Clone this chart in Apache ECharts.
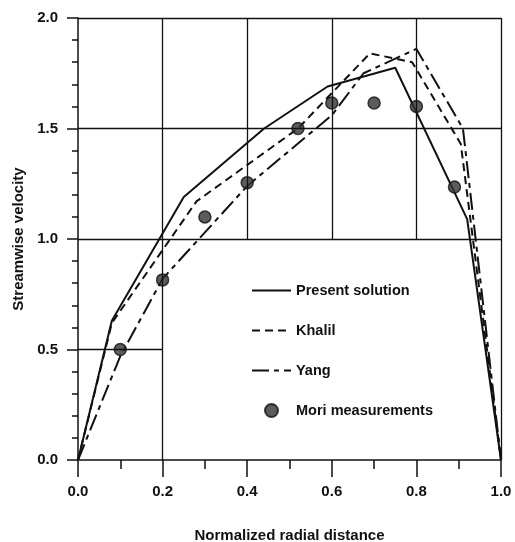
<!DOCTYPE html>
<html lang="en">
<head>
    <meta charset="UTF-8">
    <title>Streamwise velocity</title>
    <style>
        html, body { margin: 0; padding: 0; background: #fff; }
        #main { width: 515px; height: 542px; }
    </style>
</head>
<body>
<div id="main"></div>

<script src="https://cdn.jsdelivr.net/npm/echarts@6/dist/echarts.min.js"></script>
<script>
    // present solution
    var presentX = [0, 0.08, 0.25, 0.44, 0.59, 0.75, 0.92, 1.0];
    var presentY = [0, 0.63, 1.19, 1.50, 1.69, 1.775, 1.09, 0];
    // Khalil
    var khalilX = [0, 0.08, 0.28, 0.52, 0.69, 0.79, 0.905, 1.0];
    var khalilY = [0, 0.62, 1.17, 1.50, 1.84, 1.80, 1.43, 0];
    // Yang
    var yangX = [0, 0.1, 0.2, 0.4, 0.6, 0.675, 0.8, 0.91, 1.0];
    var yangY = [0, 0.47, 0.82, 1.24, 1.56, 1.75, 1.86, 1.50, 0];
    // Mori measurements
    var moriX = [0.1, 0.2, 0.3, 0.4, 0.52, 0.6, 0.7, 0.8, 0.89];
    var moriY = [0.5, 0.815, 1.10, 1.255, 1.50, 1.615, 1.615, 1.60, 1.235];

    var lineNames = ['Present solution', 'Khalil', 'Yang'];
    var pointName = 'Mori measurements';

    function pairs(xs, ys) {
        var out = [];
        for (var i = 0; i < xs.length; i++) out.push([xs[i], ys[i]]);
        return out;
    }

    // grid segments, legend area is left blank like in the paper figure
    var gridSegs = [
        [[0.2, 0], [0.2, 2]],
        [[0.4, 1], [0.4, 2]],
        [[0.6, 1], [0.6, 2]],
        [[0.8, 1], [0.8, 2]],
        [[1.0, 0], [1.0, 2]],
        [[0, 0.5], [0.2, 0.5]],
        [[0, 1.0], [1.0, 1.0]],
        [[0, 1.5], [1.0, 1.5]],
        [[0, 2.0], [1.0, 2.0]]
    ];
    var markData = gridSegs.map(function (s) {
        return [{coord: s[0]}, {coord: s[1]}];
    });

    // legend: lines without the dot, points as a dot
    var legendData = lineNames.map(function (n) {
        return {name: n, itemStyle: {opacity: 0}};
    });
    legendData.push({name: pointName, icon: 'circle'});

    var font = 'Liberation Sans, Arial, sans-serif';
    var ink = '#111';
    var myChart = echarts.init(document.getElementById('main'));
    var option = {
        backgroundColor: '#fff',
        animation: false,
        grid: {left: 78, right: 14, top: 18, bottom: 82, outerBoundsMode: 'none'},
        legend: {
            data: legendData,
            orient: 'vertical',
            left: 246,
            top: 278,
            itemWidth: 39,
            itemHeight: 13,
            itemGap: 25,
            textStyle: {fontFamily: font, fontSize: 14.5, fontWeight: 'bold', color: ink}
        },
        xAxis: {
            type: 'value', min: 0, max: 1, interval: 0.2,
            name: 'Normalized radial distance',
            nameLocation: 'middle', nameGap: 68,
            nameTextStyle: {fontFamily: font, fontSize: 15, fontWeight: 'bold', color: ink},
            axisLine: {lineStyle: {color: ink, width: 1.5}},
            axisTick: {length: 17, lineStyle: {color: ink, width: 1.5}},
            minorTick: {show: true, splitNumber: 2, length: 9, lineStyle: {color: ink, width: 1.5}},
            splitLine: {show: false},
            axisLabel: {
                margin: 24, fontFamily: font, fontSize: 15, fontWeight: 'bold', color: ink,
                formatter: function (v) { return v.toFixed(1); }
            }
        },
        yAxis: {
            type: 'value', min: 0, max: 2, interval: 0.5,
            name: 'Streamwise velocity',
            nameLocation: 'middle', nameGap: 47,
            nameTextStyle: {fontFamily: font, fontSize: 15, fontWeight: 'bold', color: ink},
            axisLine: {show: true, lineStyle: {color: ink, width: 1.5}},
            axisTick: {show: true, length: 11, lineStyle: {color: ink, width: 1.5}},
            minorTick: {show: true, splitNumber: 5, length: 6, lineStyle: {color: ink, width: 1.5}},
            splitLine: {show: false},
            axisLabel: {
                margin: 20, fontFamily: font, fontSize: 15, fontWeight: 'bold', color: ink,
                formatter: function (v) { return v.toFixed(1); }
            }
        },
        series: [
            {
                name: 'grid', type: 'line', data: [], silent: true, z: 1,
                markLine: {
                    silent: true, symbol: 'none', label: {show: false},
                    lineStyle: {color: ink, width: 1.3, type: 'solid'},
                    data: markData
                }
            },
            {
                name: lineNames[0], type: 'line', data: pairs(presentX, presentY),
                symbol: 'none', z: 3, color: ink,
                lineStyle: {color: ink, width: 2, type: 'solid'}
            },
            {
                name: lineNames[1], type: 'line', data: pairs(khalilX, khalilY),
                symbol: 'none', z: 3, color: ink,
                lineStyle: {color: ink, width: 2, type: [8, 5]}
            },
            {
                name: lineNames[2], type: 'line', data: pairs(yangX, yangY),
                symbol: 'none', z: 3, color: ink,
                lineStyle: {color: ink, width: 2, type: [17, 5, 5, 5]}
            },
            {
                name: pointName, type: 'scatter', data: pairs(moriX, moriY),
                symbol: 'circle', symbolSize: 12, z: 4,
                itemStyle: {color: '#333', borderColor: '#111', borderWidth: 1.5}
            }
        ]
    };
    myChart.setOption(option);
</script>
</body>
</html>
